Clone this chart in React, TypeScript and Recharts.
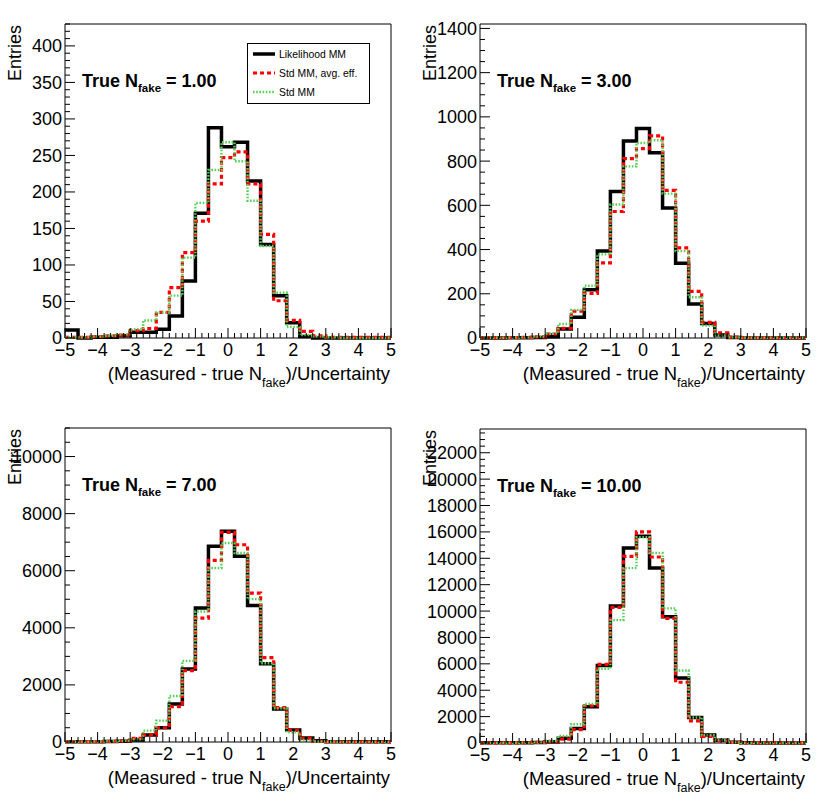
import React from 'react';
import { LineChart, Line, XAxis, YAxis, ReferenceArea, Legend } from 'recharts';

// lower edges of the 25 bins, last edge closes the histogram
const binLow = [-5, -4.6, -4.2, -3.8, -3.4, -3, -2.6, -2.2, -1.8, -1.4, -1, -0.6, -0.2, 0.2, 0.6, 1, 1.4, 1.8, 2.2, 2.6, 3, 3.4, 3.8, 4.2, 4.6];
const xEnd = 5;
const xTicks = [-5, -4, -3, -2, -1, 0, 1, 2, 3, 4, 5];

// True N_fake = 1.00
const lik1 = [11, 0, 1, 1, 3, 8, 8, 12, 30, 78, 171, 288, 262, 268, 215, 128, 58, 21, 2, 0, 0, 0, 0, 0, 0];
const avg1 = [1, 1, 2, 3, 4, 10, 13, 35, 69, 117, 160, 211, 247, 255, 211, 142, 51, 24, 9, 3, 1, 1, 1, 1, 1];
const std1 = [1, 1, 2, 3, 5, 12, 24, 35, 58, 110, 185, 230, 268, 242, 188, 126, 62, 15, 4, 2, 1, 0, 0, 0, 0];

// True N_fake = 3.00
const lik2 = [0, 0, 1, 1, 2, 6, 41, 94, 218, 393, 663, 891, 947, 838, 588, 338, 154, 66, 14, 2, 0, 0, 0, 0, 0];
const avg2 = [1, 1, 2, 3, 5, 18, 44, 121, 202, 340, 572, 811, 856, 914, 668, 408, 211, 71, 23, 4, 1, 1, 1, 1, 1];
const std2 = [1, 1, 2, 3, 6, 21, 63, 127, 236, 378, 604, 776, 882, 894, 653, 393, 184, 56, 11, 3, 1, 1, 1, 1, 1];

// True N_fake = 7.00
const lik3 = [10, 10, 10, 15, 25, 70, 245, 500, 1333, 2561, 4690, 6854, 7380, 6503, 4784, 2737, 1158, 421, 140, 47, 10, 5, 5, 5, 5];
const avg3 = [10, 10, 10, 20, 40, 130, 250, 500, 1240, 2500, 4340, 6360, 7345, 6910, 5216, 2959, 1205, 421, 130, 30, 10, 5, 5, 5, 5];
const std3 = [10, 10, 15, 25, 40, 94, 398, 750, 1614, 2842, 4573, 6094, 6971, 6620, 5006, 2760, 1181, 339, 70, 20, 10, 5, 5, 5, 5];

// True N_fake = 10.00
const lik4 = [10, 10, 10, 15, 30, 100, 356, 1094, 2748, 5878, 10382, 14784, 15674, 13257, 9567, 4936, 1934, 611, 204, 50, 10, 5, 5, 5, 5];
const avg4 = [10, 10, 10, 20, 40, 120, 300, 1018, 2824, 5954, 10280, 14148, 16005, 14097, 9440, 4606, 1679, 509, 153, 40, 10, 5, 5, 5, 5];
const std4 = [10, 10, 15, 25, 50, 150, 534, 1425, 2952, 5623, 9313, 13257, 15598, 14402, 10203, 5496, 1934, 585, 204, 50, 10, 5, 5, 5, 5];

const nFake = ['1.00', '3.00', '7.00', '10.00'];
const yMax = [430, 1420, 11000, 23800];
const yTicks1 = [0, 50, 100, 150, 200, 250, 300, 350, 400];
const yTicks2 = [0, 200, 400, 600, 800, 1000, 1200, 1400];
const yTicks3 = [0, 2000, 4000, 6000, 8000, 10000];
const yTicks4 = [0, 2000, 4000, 6000, 8000, 10000, 12000, 14000, 16000, 18000, 20000, 22000];
const yMinorStep = [10, 50, 500, 500];
const xMinorStep = 0.2;

const seriesNames = ['Likelihood MM', 'Std MM, avg. eff.', 'Std MM'];

const FONT = '"Liberation Sans", Arial, Helvetica, sans-serif';
const seriesStyle = [
  { key: 'lik', stroke: '#000000', width: 3.5, dash: undefined as string | undefined },
  { key: 'avg', stroke: '#ff0000', width: 3.2, dash: '4 3' },
  { key: 'std', stroke: '#55d055', width: 2.4, dash: '1.6 1.6' },
];

const toSteps = (lik: number[], avg: number[], std: number[]) => {
  const pts = binLow.map((x, i) => ({ x, lik: lik[i], avg: avg[i], std: std[i] }));
  const n = binLow.length - 1;
  pts.push({ x: xEnd, lik: lik[n], avg: avg[n], std: std[n] });
  return pts;
};

const withMinor = (lo: number, hi: number, step: number) => {
  const out: number[] = [];
  for (let k = 0; lo + k * step <= hi + 1e-9; k++) out.push(Math.round((lo + k * step) * 1000) / 1000);
  return out;
};

const isMajor = (majors: number[], v: number) => majors.some((t) => Math.abs(t - v) < 1e-6);
const fmt = (v: number) => (v < 0 ? '\u2212' + Math.abs(v) : String(v));

const XTick = ({ x, y, payload }: any) => {
  const major = isMajor(xTicks, payload.value);
  return (
    <g>
      <line x1={x} x2={x} y1={y} y2={y - (major ? 10 : 5)} stroke="#000" strokeWidth={1} />
      {major && (
        <text x={x} y={y + 18} textAnchor="middle" fontSize={18} fontFamily={FONT} fill="#000">
          {fmt(payload.value)}
        </text>
      )}
    </g>
  );
};

const YTick = ({ x, y, payload, majors }: any) => {
  const major = isMajor(majors, payload.value);
  return (
    <g>
      <line x1={x} x2={x + (major ? 10 : 5)} y1={y} y2={y} stroke="#000" strokeWidth={1} />
      {major && (
        <text x={x - 3} y={y} dy="0.36em" textAnchor="end" fontSize={18} fontFamily={FONT} fill="#000">
          {payload.value}
        </text>
      )}
    </g>
  );
};

const yTitle = (n: string) => (props: any) => {
  const { x, y } = props.viewBox;
  return (
    <g>
      <text x={x + 21} y={y + 1} transform={`rotate(-90, ${x + 21}, ${y + 1})`} textAnchor="end" fontSize={18} fontFamily={FONT} fill="#000">
        Entries
      </text>
      <text x={x + 82} y={y + 63} fontSize={18} fontWeight="bold" fontFamily={FONT} fill="#000">
        True N<tspan fontSize={11.5} dy={5}>fake</tspan>
        <tspan dy={-5}>{' = ' + n}</tspan>
      </text>
    </g>
  );
};

const xTitle = (props: any) => {
  const { x, y, width } = props.viewBox;
  return (
    <text x={x + width - 1} y={y + 42} textAnchor="end" fontSize={18.4} fontFamily={FONT} fill="#000">
      (Measured - true N<tspan fontSize={12.5} dy={7}>fake</tspan>
      <tspan dy={-7}>)/Uncertainty</tspan>
    </text>
  );
};

const LegendBox = () => (
  <div style={{ width: 121, height: 59, border: '1px solid #000', background: '#fff', position: 'relative', fontFamily: FONT, fontSize: 10.4, color: '#000' }}>
    {seriesNames.map((name, i) => (
      <div key={name} style={{ position: 'absolute', left: 0, top: 3 + 19 * i, height: 14, display: 'flex', alignItems: 'center', whiteSpace: 'nowrap' }}>
        <svg width={31} height={14}>
          <line x1={5} x2={27} y1={7} y2={7} stroke={seriesStyle[i].stroke} strokeWidth={seriesStyle[i].width} strokeDasharray={seriesStyle[i].dash} />
        </svg>
        <span>{name}</span>
      </div>
    ))}
  </div>
);

const panels = [
  { left: 0, top: 0, data: toSteps(lik1, avg1, std1), yTicks: yTicks1, i: 0 },
  { left: 415, top: 0, data: toSteps(lik2, avg2, std2), yTicks: yTicks2, i: 1 },
  { left: 0, top: 404, data: toSteps(lik3, avg3, std3), yTicks: yTicks3, i: 2 },
  { left: 415, top: 405, data: toSteps(lik4, avg4, std4), yTicks: yTicks4, i: 3 },
];

function Panel({ left, top, data, yTicks, i }: any) {
  const allX = withMinor(-5, 5, xMinorStep);
  const allY = withMinor(0, yMax[i], yMinorStep[i]);
  return (
    <div style={{ position: 'absolute', left, top }}>
      <LineChart width={415} height={404} data={data} margin={{ top: 24, right: 24, bottom: 0, left: 0 }}>
        <XAxis
          type="number"
          dataKey="x"
          domain={[-5, 5]}
          ticks={allX}
          interval={0}
          tickSize={0}
          tickMargin={0}
          tickLine={false}
          axisLine={false}
          height={66}
          tick={(p: any) => <XTick {...p} />}
          label={xTitle}
        />
        <YAxis
          type="number"
          domain={[0, yMax[i]]}
          ticks={allY}
          interval={0}
          tickSize={0}
          tickMargin={0}
          tickLine={false}
          axisLine={false}
          width={65}
          tick={(p: any) => <YTick {...p} majors={yTicks} />}
          label={yTitle(nFake[i])}
        />
        {seriesStyle.map((s) => (
          <Line
            key={s.key}
            dataKey={s.key}
            type="stepAfter"
            stroke={s.stroke}
            strokeWidth={s.width}
            strokeDasharray={s.dash}
            dot={false}
            activeDot={false}
            isAnimationActive={false}
          />
        ))}
        <ReferenceArea x1={-5} x2={5} y1={0} y2={yMax[i]} fill="none" stroke="#000" strokeWidth={1} />
        {i === 0 && (
          <Legend
            layout="vertical"
            align="center"
            verticalAlign="middle"
            wrapperStyle={{ left: 247, top: 43, width: 123, height: 61 }}
            content={() => <LegendBox />}
          />
        )}
      </LineChart>
    </div>
  );
}

export default function App() {
  return (
    <div style={{ position: 'absolute', left: 0, top: 0, width: 830, height: 809, background: '#fff', fontFamily: FONT }}>
      {panels.map((p) => (
        <Panel key={p.i} {...p} />
      ))}
    </div>
  );
}
